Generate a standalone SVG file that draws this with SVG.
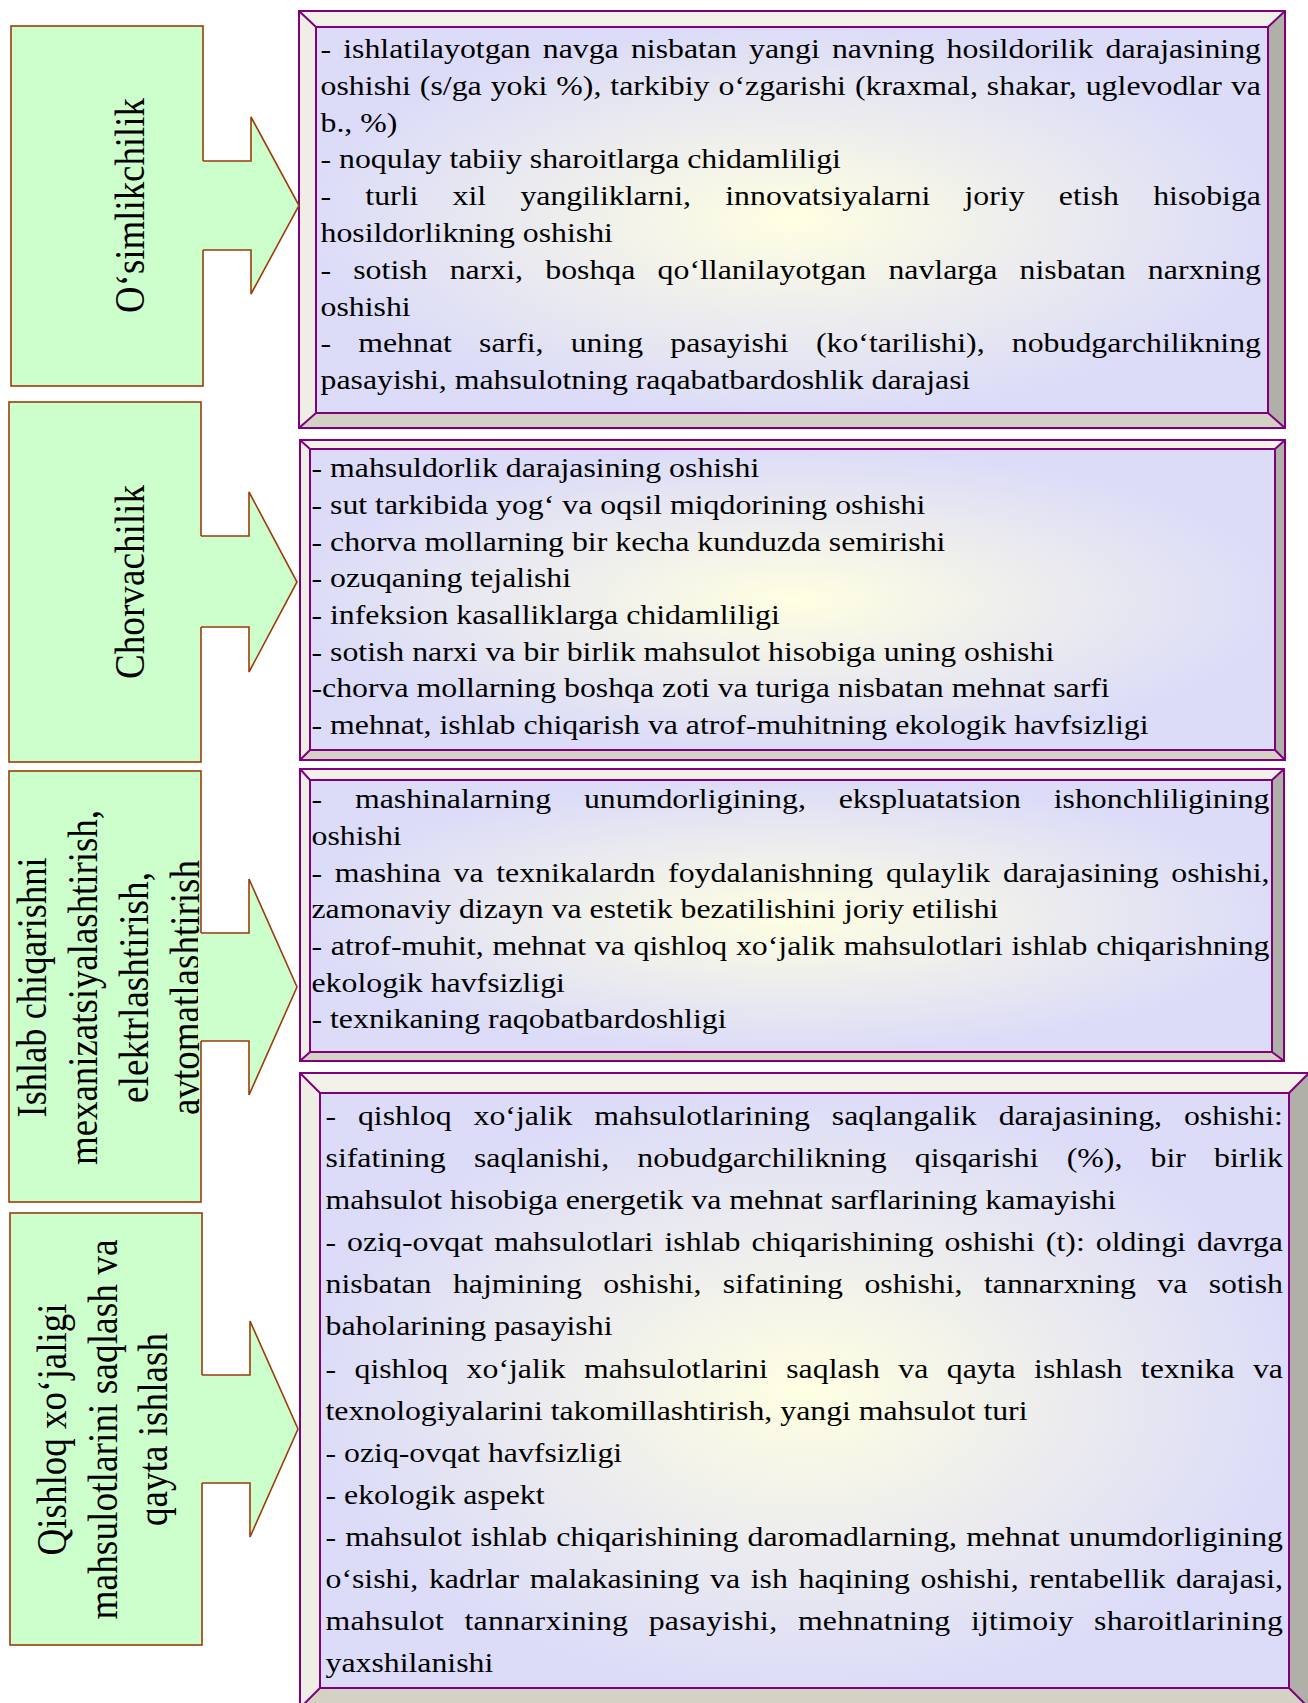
<svg xmlns="http://www.w3.org/2000/svg" width="1308" height="1703" viewBox="0 0 1308 1703">
<defs>
<radialGradient id="fillg" cx="0.5" cy="0.5" r="0.5">
<stop offset="0" stop-color="#FFFFE2"/>
<stop offset="0.5" stop-color="#EDEDEE"/>
<stop offset="1" stop-color="#DCDCF8"/>
</radialGradient>
<style>
.t{font-family:"Liberation Serif","Times New Roman",serif;font-size:26.5px;fill:#000}
.lbl{font-family:"Liberation Serif","Times New Roman",serif;font-size:36.5px;fill:#000}
.green{fill:#CCFFCC;stroke:#9C3D0C;stroke-width:1.6}
.afill{fill:#CCFFCC;stroke:none}
.aline{fill:none;stroke:#9C3D0C;stroke-width:1.6;stroke-linejoin:miter}
.bt{fill:#F1F1E7}
.bl{fill:#EEEEE4}
.bb{fill:#D4D2C4}
.br{fill:#B0B0A8}
.inner{fill:url(#fillg)}
.pl{fill:none;stroke:#7F007F;stroke-width:2}
</style>
</defs>
<rect width="1308" height="1703" fill="#FFFFFF"/>

<!-- Left nodes -->
<g id="node-osimlikchilik">
<rect class="green" x="11" y="26" width="192" height="360"/>
<text class="lbl" transform="translate(144 205.5) scale(1.15 1) rotate(-90)" text-anchor="middle" textLength="215" lengthAdjust="spacingAndGlyphs">O‘simlikchilik</text>
</g>
<g id="node-chorvachilik">
<rect class="green" x="9" y="402" width="192" height="360"/>
<text class="lbl" transform="translate(143.5 582) scale(1.15 1) rotate(-90)" text-anchor="middle" textLength="194" lengthAdjust="spacingAndGlyphs">Chorvachilik</text>
</g>
<g id="node-ishlab">
<rect class="green" x="9" y="771" width="192" height="431"/>
<text class="lbl" transform="translate(45.5 987.5) scale(1.15 1) rotate(-90)" text-anchor="middle" textLength="260" lengthAdjust="spacingAndGlyphs">Ishlab chiqarishni</text>
<text class="lbl" transform="translate(96.5 987.5) scale(1.15 1) rotate(-90)" text-anchor="middle" textLength="355" lengthAdjust="spacingAndGlyphs">mexanizatsiyalashtirish,</text>
<text class="lbl" transform="translate(147.5 987.5) scale(1.15 1) rotate(-90)" text-anchor="middle" textLength="231" lengthAdjust="spacingAndGlyphs">elektrlashtirish,</text>
<text class="lbl" transform="translate(198.5 987.5) scale(1.15 1) rotate(-90)" text-anchor="middle" textLength="255" lengthAdjust="spacingAndGlyphs">avtomatlashtirish</text>
</g>
<g id="node-qishloq">
<rect class="green" x="10" y="1213" width="192" height="432"/>
<text class="lbl" transform="translate(66 1429.5) scale(1.15 1) rotate(-90)" text-anchor="middle" textLength="252" lengthAdjust="spacingAndGlyphs">Qishloq xo‘jaligi</text>
<text class="lbl" transform="translate(117 1429.5) scale(1.15 1) rotate(-90)" text-anchor="middle" textLength="380" lengthAdjust="spacingAndGlyphs">mahsulotlarini saqlash va</text>
<text class="lbl" transform="translate(166.5 1429.5) scale(1.15 1) rotate(-90)" text-anchor="middle" textLength="193" lengthAdjust="spacingAndGlyphs">qayta ishlash</text>
</g>

<!-- Right nodes (bevelled boxes) -->
<g id="node-box1">
<polygon class="bt" points="299,11 1285,11 1268,27 316,27"/>
<polygon class="bl" points="299,11 316,27 316,413 299,428"/>
<polygon class="bb" points="299,428 316,413 1268,413 1285,428"/>
<polygon class="br" points="1285,11 1285,428 1268,413 1268,27"/>
<rect class="inner" x="316" y="27" width="952" height="386"/>
<rect class="pl" x="299" y="11" width="986" height="417"/>
<rect class="pl" x="316" y="27" width="952" height="386"/>
<path class="pl" d="M299,11 L316,27 M1285,11 L1268,27 M299,428 L316,413 M1285,428 L1268,413"/>
<g transform="translate(320.5 0) scale(1.2 1)">
<text class="t" y="58" textLength="783.75" lengthAdjust="spacing" style="word-spacing:3.5px">- ishlatilayotgan navga nisbatan yangi navning hosildorilik darajasining</text>
<text class="t" y="94.8" textLength="783.75" lengthAdjust="spacing" style="word-spacing:0.8px">oshishi (s/ga yoki %), tarkibiy o‘zgarishi (kraxmal, shakar, uglevodlar va</text>
<text class="t" y="131.6">b., %)</text>
<text class="t" y="168.4">- noqulay tabiiy sharoitlarga chidamliligi</text>
<text class="t" y="205.2" textLength="783.75" lengthAdjust="spacing" style="word-spacing:21.9px">- turli xil yangiliklarni, innovatsiyalarni joriy etish hisobiga</text>
<text class="t" y="242">hosildorlikning oshishi</text>
<text class="t" y="278.8" textLength="783.75" lengthAdjust="spacing" style="word-spacing:11.8px">- sotish narxi, boshqa qo‘llanilayotgan navlarga nisbatan narxning</text>
<text class="t" y="315.6">oshishi</text>
<text class="t" y="352.4" textLength="783.75" lengthAdjust="spacing" style="word-spacing:16px">- mehnat sarfi, uning pasayishi (ko‘tarilishi), nobudgarchilikning</text>
<text class="t" y="389.2">pasayishi, mahsulotning raqabatbardoshlik darajasi</text>
</g>
</g>

<g id="node-box2">
<polygon class="bt" points="300,440 1285,440 1275,449 310,449"/>
<polygon class="bl" points="300,440 310,449 310,750 300,760"/>
<polygon class="bb" points="300,760 310,750 1275,750 1285,760"/>
<polygon class="br" points="1285,440 1285,760 1275,750 1275,449"/>
<rect class="inner" x="310" y="449" width="965" height="301"/>
<rect class="pl" x="300" y="440" width="985" height="320"/>
<rect class="pl" x="310" y="449" width="965" height="301"/>
<path class="pl" d="M300,440 L310,449 M1285,440 L1275,449 M300,760 L310,750 M1285,760 L1275,750"/>
<g transform="translate(311.5 0) scale(1.2 1)">
<text class="t" y="477.3">- mahsuldorlik darajasining oshishi</text>
<text class="t" y="514">- sut tarkibida yog‘ va oqsil miqdorining oshishi</text>
<text class="t" y="550.7">- chorva mollarning bir kecha kunduzda semirishi</text>
<text class="t" y="587.4">- ozuqaning tejalishi</text>
<text class="t" y="624.1">- infeksion kasalliklarga chidamliligi</text>
<text class="t" y="660.8">- sotish narxi va bir birlik mahsulot hisobiga uning oshishi</text>
<text class="t" y="697.5">-chorva mollarning boshqa zoti va turiga nisbatan mehnat sarfi</text>
<text class="t" y="734.2">- mehnat, ishlab chiqarish va atrof-muhitning ekologik havfsizligi</text>
</g>
</g>

<g id="node-box3">
<polygon class="bt" points="300,769 1284,769 1272,780 310,780"/>
<polygon class="bl" points="300,769 310,780 310,1052 300,1061"/>
<polygon class="bb" points="300,1061 310,1052 1272,1052 1284,1061"/>
<polygon class="br" points="1284,769 1284,1061 1272,1052 1272,780"/>
<rect class="inner" x="310" y="780" width="962" height="272"/>
<rect class="pl" x="300" y="769" width="984" height="292"/>
<rect class="pl" x="310" y="780" width="962" height="272"/>
<path class="pl" d="M300,769 L310,780 M1284,769 L1272,780 M300,1061 L310,1052 M1284,1061 L1272,1052"/>
<g transform="translate(311.5 0) scale(1.2 1)">
<text class="t" y="808.3" textLength="798.3" lengthAdjust="spacing" style="word-spacing:20.7px">- mashinalarning unumdorligining, ekspluatatsion ishonchliligining</text>
<text class="t" y="845">oshishi</text>
<text class="t" y="881.7" textLength="798.3" lengthAdjust="spacing" style="word-spacing:3.9px">- mashina va texnikalardn foydalanishning qulaylik darajasining oshishi,</text>
<text class="t" y="918.4">zamonaviy dizayn va estetik bezatilishini joriy etilishi</text>
<text class="t" y="955.1" textLength="798.3" lengthAdjust="spacing" style="word-spacing:0.6px">- atrof-muhit, mehnat va qishloq xo‘jalik mahsulotlari ishlab chiqarishning</text>
<text class="t" y="991.8">ekologik havfsizligi</text>
<text class="t" y="1028.5">- texnikaning raqobatbardoshligi</text>
</g>
</g>

<g id="node-box4">
<polygon class="bt" points="300,1073 1309,1073 1289,1093 320,1093"/>
<polygon class="bl" points="300,1073 320,1093 320,1688 300,1708"/>
<polygon class="bb" points="300,1708 320,1688 1289,1688 1309,1708"/>
<polygon class="br" points="1309,1073 1309,1708 1289,1688 1289,1093"/>
<rect class="inner" x="320" y="1093" width="969" height="595"/>
<rect class="pl" x="300" y="1073" width="1009" height="635"/>
<rect class="pl" x="320" y="1093" width="969" height="595"/>
<path class="pl" d="M300,1073 L320,1093 M1309,1073 L1289,1093 M300,1708 L320,1688 M1309,1708 L1289,1688"/>
<g transform="translate(325.5 0) scale(1.2 1)">
<text class="t" y="1125" textLength="797.9" lengthAdjust="spacing" style="word-spacing:11.6px">- qishloq xo‘jalik mahsulotlarining saqlangalik darajasining, oshishi:</text>
<text class="t" y="1167.1" textLength="797.9" lengthAdjust="spacing" style="word-spacing:16.8px">sifatining saqlanishi, nobudgarchilikning qisqarishi (%), bir birlik</text>
<text class="t" y="1209.2">mahsulot hisobiga energetik va mehnat sarflarining kamayishi</text>
<text class="t" y="1251.3" textLength="797.9" lengthAdjust="spacing" style="word-spacing:2.5px">- oziq-ovqat mahsulotlari ishlab chiqarishining oshishi (t): oldingi davrga</text>
<text class="t" y="1293.4" textLength="797.9" lengthAdjust="spacing" style="word-spacing:11.2px">nisbatan hajmining oshishi, sifatining oshishi, tannarxning va sotish</text>
<text class="t" y="1335.5">baholarining pasayishi</text>
<text class="t" y="1377.6" textLength="797.9" lengthAdjust="spacing" style="word-spacing:8.7px">- qishloq xo‘jalik mahsulotlarini saqlash va qayta ishlash texnika va</text>
<text class="t" y="1419.7">texnologiyalarini takomillashtirish, yangi mahsulot turi</text>
<text class="t" y="1461.8">- oziq-ovqat havfsizligi</text>
<text class="t" y="1503.9">- ekologik aspekt</text>
<text class="t" y="1546" textLength="797.9" lengthAdjust="spacing" style="word-spacing:1px">- mahsulot ishlab chiqarishining daromadlarning, mehnat unumdorligining</text>
<text class="t" y="1588.1" textLength="797.9" lengthAdjust="spacing" style="word-spacing:2.25px">o‘sishi, kadrlar malakasining va ish haqining oshishi, rentabellik darajasi,</text>
<text class="t" y="1630.2" textLength="797.9" lengthAdjust="spacing" style="word-spacing:10.25px">mahsulot tannarxining pasayishi, mehnatning ijtimoiy sharoitlarining</text>
<text class="t" y="1672.3">yaxshilanishi</text>
</g>
</g>

<!-- Connectors: block arrows from left nodes to bevelled boxes -->
<g id="connectors">
<path class="afill" d="M200,161 H251 V117 L299,205.5 L251,294 V250 H200 Z"/>
<path class="aline" d="M203,161 H251 V117 L299,205.5 L251,294 V250 H203"/>
<path class="afill" d="M198,536 H249 V492 L297,582 L249,672 V627 H198 Z"/>
<path class="aline" d="M201,536 H249 V492 L297,582 L249,672 V627 H201"/>
<path class="afill" d="M198,933 H249 V879 L297,987 L249,1095 V1041 H198 Z"/>
<path class="aline" d="M201,933 H249 V879 L297,987 L249,1095 V1041 H201"/>
<path class="afill" d="M199,1375 H250 V1321 L298,1429 L250,1537 V1483 H199 Z"/>
<path class="aline" d="M202,1375 H250 V1321 L298,1429 L250,1537 V1483 H202"/>
</g>
</svg>
